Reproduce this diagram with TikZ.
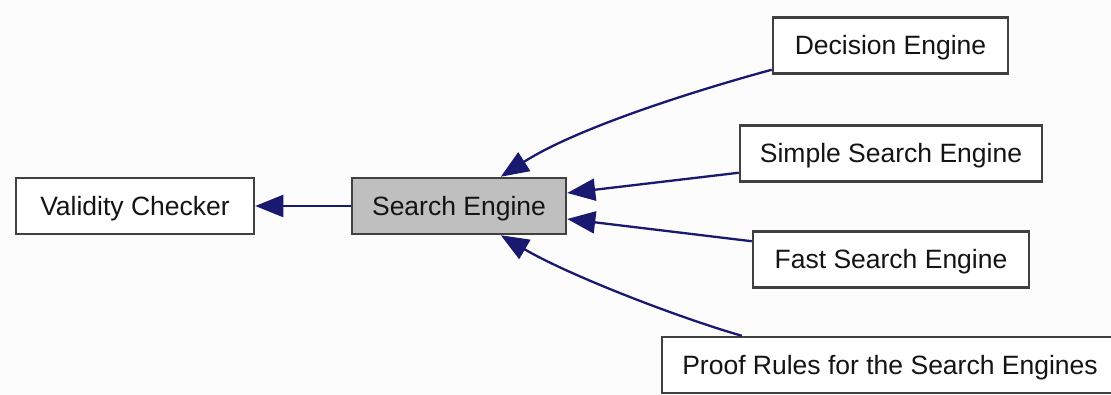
\documentclass[tikz,border=0pt]{standalone}
\usepackage{fontspec}
\setmainfont{Liberation Sans}
\usetikzlibrary{arrows.meta,calc}
\definecolor{edgeblue}{RGB}{25,25,112}
\definecolor{boxline}{RGB}{64,64,64}
\definecolor{hilite}{RGB}{191,191,191}
\definecolor{bg}{RGB}{251,252,251}
\definecolor{ink}{RGB}{20,20,20}
\begin{document}
\begin{tikzpicture}[x=1pt,y=-1pt,
  box/.style={draw=boxline,line width=2.5pt,fill=white,text=ink,inner sep=0pt,
    minimum height=56pt,font=\fontsize{26.5}{30}\selectfont,
    text height=19pt,text depth=0pt},
  edge/.style={draw=edgeblue,line width=2.3pt,-{Triangle[length=28pt,width=22pt]}}]
\useasboundingbox (0,0) rectangle (1111,395);
\clip (0,0) rectangle (1111,395);
\fill[bg] (0,0) rectangle (1111,395);

% group nodes
\node[box,minimum width=238pt] (vc) at (135,206) {Validity Checker};
\node[box,fill=hilite,minimum width=214pt] (se) at (459,206) {Search Engine};
\node[box,minimum width=235pt] (dec) at (890.5,45.5) {Decision Engine};
\node[box,minimum width=302pt] (sim) at (891,153.5) {Simple Search Engine};
\node[box,minimum width=276pt] (fast) at (891,259.5) {Fast Search Engine};
\node[box,minimum width=470pt] (proof) at (897,365) {\hspace*{-14pt}Proof Rules for the Search Engines};

% dependency edges
\draw[edge] (se.west) -- (vc.east);
\draw[edge] ([yshift=5pt]dec.south west) .. controls +(-70,19) and +(78,-50) .. ([xshift=150pt]se.north west);
\draw[edge] ([yshift=10pt]sim.south west) -- ([yshift=13pt]se.east);
\draw[edge] ([yshift=-11pt]fast.north west) -- ([yshift=-13pt]se.east);
\draw[edge] ([xshift=81pt]proof.north west) .. controls +(-63,-18) and +(68,40) .. ([xshift=150pt]se.south west);
\end{tikzpicture}
\end{document}
